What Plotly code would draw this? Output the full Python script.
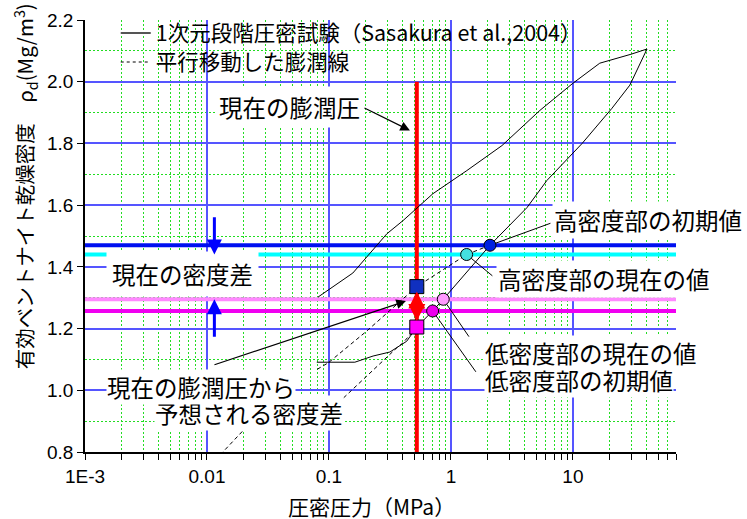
import numpy as np
import plotly.graph_objects as go

# ---------------- data ----------------
# 1D stepwise consolidation test (Sasakura et al., 2004): loading then unloading path
load_p = [0.0813, 0.157, 0.298, 0.405, 0.711, 1.35, 2.62, 5.36, 10.0, 16.6, 29.9, 40.5]
load_rho = [1.302, 1.380, 1.507, 1.550, 1.637, 1.712, 1.793, 1.907, 1.995, 2.060, 2.089, 2.106]
unload_p = [40.5, 29.3, 20.9, 11.9, 6.12, 4.20, 2.09, 0.865, 0.708, 0.525, 0.434, 0.316, 0.230, 0.163, 0.0795]
unload_rho = [2.106, 1.989, 1.914, 1.800, 1.680, 1.592, 1.470, 1.295, 1.257, 1.205, 1.159, 1.124, 1.111, 1.091, 1.091]

# parallel-shifted swelling lines
shiftA_p = [2.09, 1.345, 0.525, 0.204, 0.0987, 0.0793]
shiftA_rho = [1.470, 1.440, 1.336, 1.192, 1.089, 1.067]
shiftB_p = [0.525, 0.405, 0.361, 0.119, 0.0205, 0.0135]
shiftB_rho = [1.205, 1.154, 1.138, 0.959, 0.876, 0.800]

# reference levels / key points
p_swell_now = 0.525
rho_high_init, p_high_init = 1.470, 2.09
rho_high_now, p_high_now = 1.440, 1.345
rho_low_now, p_low_now = 1.295, 0.865
rho_low_init, p_low_init = 1.257, 0.708
rho_sq_high, rho_sq_low = 1.336, 1.205
p_arrow_blue = 0.0115

x_ticks = [0.001, 0.01, 0.1, 1, 10]
x_ticktext = ["1E-3", "0.01", "0.1", "1", "10"]
x_range = [0.001, 70]
y_range = [0.8, 2.2]

JP = "Noto Sans CJK JP"
NUM = "Liberation Sans Narrow, Liberation Sans, Arial"

fig = go.Figure()

# thick horizontal reference lines
for lev, col in [(rho_high_init, "#0010F0"), (rho_high_now, "#00FFFF"),
                 (rho_low_now, "#FF88FF"), (rho_low_init, "#F000F0")]:
    fig.add_trace(go.Scatter(x=x_range, y=[lev, lev], mode="lines",
                             line=dict(color=col, width=4), showlegend=False, hoverinfo="skip"))

# current swelling pressure (red vertical)
fig.add_trace(go.Scatter(x=[p_swell_now, p_swell_now], y=[2.0, 0.8], mode="lines",
                         line=dict(color="#FF0000", width=4), showlegend=False, hoverinfo="skip"))

# test curve
fig.add_trace(go.Scatter(x=load_p + unload_p[1:], y=load_rho + unload_rho[1:], mode="lines",
                         line=dict(color="black", width=1), showlegend=False))
# shifted swelling lines
for xs, ys in [(shiftA_p, shiftA_rho), (shiftB_p, shiftB_rho)]:
    fig.add_trace(go.Scatter(x=xs, y=ys, mode="lines",
                             line=dict(color="black", width=1, dash="4px,3px"), showlegend=False))

# legend entries (each in its own legend box for exact row placement)
fig.add_trace(go.Scatter(x=[None], y=[None], mode="lines", line=dict(color="#555555", width=2),
                         name="1次元段階圧密試験（Sasakura et al.,2004）", legend="legend"))
fig.add_trace(go.Scatter(x=[None], y=[None], mode="lines", line=dict(color="black", width=1, dash="3px,3px"),
                         name="平行移動した膨潤線", legend="legend2"))

# markers
circ = [(p_high_init, rho_high_init, "#0020E0"), (p_high_now, rho_high_now, "#44E0E0"),
        (p_low_now, rho_low_now, "#FF99FF"), (p_low_init, rho_low_init, "#EE00EE")]
for px, py, col in circ:
    fig.add_trace(go.Scatter(x=[px], y=[py], mode="markers", showlegend=False,
                             marker=dict(symbol="circle", size=12, color=col, line=dict(color="black", width=1))))
for py, col in [(rho_sq_high, "#1030C0"), (rho_sq_low, "#FF00FF")]:
    fig.add_trace(go.Scatter(x=[p_swell_now], y=[py], mode="markers", showlegend=False,
                             marker=dict(symbol="square", size=14, color=col, line=dict(color="black", width=1))))

L = np.log10
ann = []
def text(t, lx, y, size=23.5, pad=3):
    ann.append(dict(text=t, x=lx, y=y, xref="x", yref="y", showarrow=False,
                    xanchor="center", yanchor="middle",
                    font=dict(family=JP, size=size, color="black"), bgcolor="white", borderpad=pad))

text("現在の膨潤圧", -1.320, 1.917)
text("現在の密度差", -2.201, 1.377, pad=5)
text("高密度部の初期値", 1.615, 1.553, pad=1)
text("高密度部の現在の値", 1.254, 1.361, pad=1)
text("低密度部の初期値", 1.053, 1.033, pad=0)
text("低密度部の現在の値", 1.148, 1.121, pad=0)
text("予想される密度差", -1.656, 0.928, pad=0)
text("現在の膨潤圧から", -2.053, 1.010, pad=0)

def arrow(x0, y0, x1, y1, color="black", width=1, head=0, size=1, standoff=0):
    ann.append(dict(text="", x=x1, y=y1, ax=x0, ay=y0, xref="x", yref="y", axref="x", ayref="y",
                    showarrow=True, arrowhead=head, arrowsize=size, arrowwidth=width,
                    arrowcolor=color, standoff=standoff))

# leader lines
arrow(0.828, 1.543, L(p_high_init), rho_high_init, standoff=6)
arrow(0.352, 1.367, L(p_high_now), rho_high_now, standoff=6)
arrow(0.156, 1.169, L(p_low_now), rho_low_now, standoff=6)
arrow(0.213, 1.055, L(p_low_init), rho_low_init, standoff=6)
# pointer arrows
arrow(-0.721, 1.917, -0.336, 1.842, head=2, size=1.6, width=1.2)
arrow(-1.951, 1.081, -0.369, 1.289, head=2, size=1.6, width=1.2)
arrow(L(p_arrow_blue), 1.566, L(p_arrow_blue), rho_high_now, color="#0000FF", width=3, head=2, size=1.0)
arrow(L(p_arrow_blue), 1.169, L(p_arrow_blue), rho_low_now, color="#0000FF", width=3, head=2, size=1.0)
arrow(L(p_swell_now), 1.29, L(p_swell_now), rho_sq_high, color="#FF0000", width=4, head=2, size=0.85, standoff=5)
arrow(L(p_swell_now), 1.29, L(p_swell_now), rho_sq_low, color="#FF0000", width=4, head=2, size=0.85, standoff=6)

# axis titles
ann.append(dict(text="有効ベントナイト乾燥密度　ρ<sub>d</sub>(Mg/m<sup>3</sup>)", x=-0.1015, y=0.615,
                xref="paper", yref="paper", textangle=-90, showarrow=False,
                xanchor="center", yanchor="middle",
                font=dict(family=JP, size=20.5, color="black")))
ann.append(dict(text="圧密圧力（MPa）", x=0.484, y=-0.125, xref="paper", yref="paper",
                xanchor="center", yanchor="middle",
                showarrow=False, font=dict(family=JP, size=21, color="black")))

x_minor = [m * 10.0 ** e for e in range(-3, 2) for m in range(2, 10) if m * 10.0 ** e <= 70]

leg_common = dict(xanchor="left", yanchor="middle", bgcolor="rgba(0,0,0,0)",
                  font=dict(family=JP, size=21.5, color="black"))
fig.update_layout(
    width=747, height=519, margin=dict(l=85, r=71, t=20, b=67),
    plot_bgcolor="white", paper_bgcolor="white",
    annotations=ann,
    legend=dict(x=0.052, y=0.970, **leg_common),
    legend2=dict(x=0.052, y=0.9027, **leg_common),
    xaxis=dict(type="log", range=[L(x_range[0]), L(x_range[1])], tickvals=x_ticks, ticktext=x_ticktext,
               showline=True, linecolor="black", linewidth=1.5, ticks="outside", ticklen=6,
               tickcolor="black", tickfont=dict(family=NUM, size=19, color="black"),
               showgrid=True, gridcolor="#5555FF", gridwidth=1.5, zeroline=False, automargin=False,
               minor=dict(tickvals=x_minor, ticks="outside", ticklen=6, tickcolor="black",
                          showgrid=True, gridcolor="#22DD22", griddash="2px,2px", gridwidth=1)),
    yaxis=dict(range=y_range, dtick=0.2, tick0=0.8, tickformat=".1f",
               showline=True, linecolor="black", linewidth=1.5, ticks="outside", ticklen=6,
               tickcolor="black", tickfont=dict(family=NUM, size=19, color="black"),
               showgrid=True, gridcolor="#5555FF", gridwidth=1.5, zeroline=False, automargin=False,
               minor=dict(dtick=0.1, tick0=0.8, showgrid=True, gridcolor="#22DD22",
                          griddash="2px,2px", gridwidth=1)),
)

fig.write_html("out.html", config={"displayModeBar": False},
               post_script="document.body.style.margin='0';document.body.style.padding='0';")
